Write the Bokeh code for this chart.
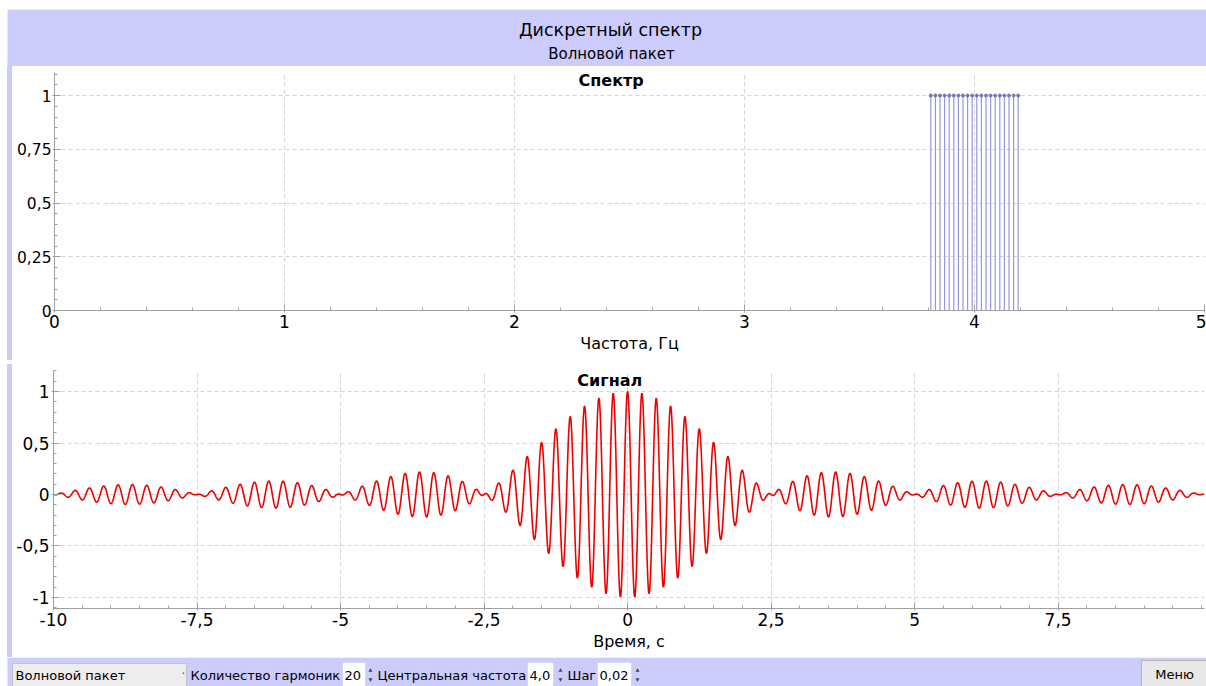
import numpy as np
from bokeh.plotting import figure
from bokeh.layouts import column, row
from bokeh.models import FixedTicker, Label, Range1d, CustomJSTickFormatter, Div
from bokeh.core.properties import value
from bokeh.embed import file_html
from bokeh.resources import INLINE

# ---------------- data ----------------
harmonic_freqs = [3.81, 3.83, 3.85, 3.87, 3.89, 3.91, 3.93, 3.95, 3.97, 3.99,
                  4.01, 4.03, 4.05, 4.07, 4.09, 4.11, 4.13, 4.15, 4.17, 4.19]
harmonic_amps = [1.0, 1.0, 1.0, 1.0, 1.0, 1.0, 1.0, 1.0, 1.0, 1.0,
                 1.0, 1.0, 1.0, 1.0, 1.0, 1.0, 1.0, 1.0, 1.0, 1.0]
spec_xticks = [0, 1, 2, 3, 4, 5]
spec_yticks = [0, 0.25, 0.5, 0.75, 1]
sig_xticks = [-10, -7.5, -5, -2.5, 0, 2.5, 5, 7.5]
sig_yticks = [-1, -0.5, 0, 0.5, 1]
time_start, time_stop, time_step = -10.0, 10.05, 0.005

window_title = "Дискретный спектр"
window_subtitle = "Волновой пакет"
spec_title = "Спектр"
sig_title = "Сигнал"
spec_xlabel = "Частота, Гц"
sig_xlabel = "Время, с"
toolbar_texts = ["Волновой пакет", "Количество гармоник", "20",
                 "Центральная частота", "4,0", "Шаг", "0,02"]
menu_text = "Меню"

# signal = sum of the harmonics of the discrete spectrum (normalised)
t = np.arange(time_start, time_stop, time_step)
signal = np.zeros_like(t)
for f, a in zip(harmonic_freqs, harmonic_amps):
    signal += a * np.cos(2 * np.pi * f * t)
signal /= sum(harmonic_amps)

FONT = "DejaVu Sans"
LAV = "#ccccfc"
W = 1206


def chrome(width, height):
    p = figure(width=width, height=height, x_range=Range1d(0, width),
               y_range=Range1d(height, 0), x_axis_type=None, y_axis_type=None,
               toolbar_location=None, output_backend="svg",
               min_border=0, min_border_left=0, min_border_right=0,
               min_border_top=0, min_border_bottom=0)
    p.outline_line_color = None
    p.background_fill_color = "white"
    p.border_fill_color = "white"
    p.grid.visible = False
    return p


def strip(height):
    return Div(text="", width=12, height=height, margin=0,
               styles={"background": f"linear-gradient(to right, white 0px, white 7px, {LAV} 7px, {LAV} 12px)",
                       "padding": "0px"})


def fmt():
    return CustomJSTickFormatter(code="return tick.toString().replace('.', ',');")


def style_plot(p):
    p.outline_line_color = None
    p.background_fill_color = "white"
    p.border_fill_color = "white"
    for ax in p.axis:
        ax.axis_line_color = "#a0a0a0"
        ax.major_tick_line_color = "#a0a0a0"
        ax.minor_tick_line_color = "#a0a0a0"
        ax.major_tick_in = 6
        ax.major_tick_out = 2
        ax.minor_tick_in = 3
        ax.minor_tick_out = 0
        ax.major_label_text_font = FONT
        ax.major_label_text_font_size = "17px"
        ax.major_label_text_color = "black"
        ax.major_label_standoff = 2
        ax.axis_label_text_font = FONT
        ax.axis_label_text_font_size = "16px"
        ax.axis_label_text_font_style = "normal"
        ax.axis_label_text_color = "black"
        ax.axis_label_standoff = 3
        ax.formatter = fmt()
    for g in p.grid:
        g.grid_line_color = "#d4d4d4"
        g.grid_line_dash = "4 3"
        g.grid_line_width = 1


# ---------------- header ----------------
hdr = chrome(W, 66)
hdr.quad(left=[7], right=[W], top=[9], bottom=[66], fill_color=LAV, line_color=None)
hdr.text(x=[610], y=[29], text=[window_title], text_font=value(FONT),
         text_font_size="17.5px", text_align="center", text_baseline="middle", text_color="black")
hdr.text(x=[611], y=[53], text=[window_subtitle], text_font=value(FONT),
         text_font_size="15px", text_align="center", text_baseline="middle", text_color="black")

# ---------------- spectrum ----------------
p1 = figure(width=1194, height=294, x_range=Range1d(0, 5), y_range=Range1d(0, 1.107),
            toolbar_location=None, output_backend="svg",
            min_border_left=42, min_border_right=2, min_border_top=6, min_border_bottom=50)
p1.xaxis.axis_label = spec_xlabel
xt1 = FixedTicker(ticks=spec_xticks,
                  minor_ticks=[round(v, 2) for v in np.arange(0, 5.001, 0.2)])
yt1 = FixedTicker(ticks=spec_yticks,
                  minor_ticks=[round(v, 2) for v in np.arange(0, 1.101, 0.05)])
p1.xaxis.ticker = xt1
p1.yaxis.ticker = yt1
p1.xgrid.ticker = xt1
p1.ygrid.ticker = yt1
style_plot(p1)
p1.yaxis.major_label_text_font_size = "15.5px"
p1.yaxis.major_label_standoff = 1
p1.segment(x0=harmonic_freqs, y0=[0] * len(harmonic_freqs), x1=harmonic_freqs,
           y1=harmonic_amps, line_color="#9898dc", line_width=1.2)
p1.scatter(x=harmonic_freqs, y=harmonic_amps, marker="circle", size=3,
           fill_color="#7474b8", line_color="#7474b8")
p1.add_layout(Label(x=2.42, y=1.07, text=spec_title, text_font=FONT,
                    text_font_size="16px", text_font_style="bold",
                    text_align="center", text_baseline="middle", text_color="black"))

# ---------------- separator ----------------
sep = chrome(W, 4)
sep.quad(left=[7], right=[W], top=[0], bottom=[4], fill_color=LAV, line_color=None)

# ---------------- signal ----------------
p2 = figure(width=1194, height=293, x_range=Range1d(-10, 10.05), y_range=Range1d(-1.107, 1.204),
            toolbar_location=None, output_backend="svg",
            min_border_left=41, min_border_right=2, min_border_top=6, min_border_bottom=49)
p2.xaxis.axis_label = sig_xlabel
xt2 = FixedTicker(ticks=sig_xticks,
                  minor_ticks=[round(v, 2) for v in np.arange(-10, 10.01, 0.5)])
yt2 = FixedTicker(ticks=sig_yticks,
                  minor_ticks=[round(v, 2) for v in np.arange(-1.1, 1.201, 0.1)])
p2.xaxis.ticker = xt2
p2.yaxis.ticker = yt2
p2.xgrid.ticker = xt2
p2.ygrid.ticker = yt2
style_plot(p2)
p2.line(t, signal, line_color="#ee0000", line_width=1.6)
p2.add_layout(Label(x=-0.31, y=1.107, text=sig_title, text_font=FONT,
                    text_font_size="16px", text_font_style="bold",
                    text_align="center", text_baseline="middle", text_color="black"))

# ---------------- bottom toolbar ----------------
tb = chrome(W, 29)
tb.quad(left=[7], right=[W], top=[0], bottom=[29], fill_color=LAV, line_color=None)
tb.quad(left=[12], right=[186], top=[6], bottom=[29], fill_color="#ededed", line_color="#c4c4c4")
tb.quad(left=[342, 527, 597], right=[365, 553, 631], top=[5, 5, 5], bottom=[29, 29, 29],
        fill_color="white", line_color="#d8d8f0")
tb.quad(left=[1141], right=[W], top=[3], bottom=[29], fill_color="#e8e8e8", line_color="#b4b4b4")
tb.text(x=[15, 190, 344, 377, 529, 567, 599],
        y=[18, 18, 18, 18, 18, 18, 18], text=toolbar_texts, text_font=value(FONT),
        text_font_size="13px", text_align="left", text_baseline="middle", text_color="black")
tb.text(x=[1174], y=[17], text=[menu_text], text_font=value(FONT),
        text_font_size="13px", text_align="center", text_baseline="middle", text_color="black")
tb.text(x=[183], y=[16], text=["·"], text_font=value(FONT), text_font_size="12px",
        text_align="center", text_baseline="middle", text_color="#555555")
tb.scatter(x=[370, 560, 637], y=[13, 13, 13], marker="triangle", size=4,
           fill_color="#444444", line_color=None)
tb.scatter(x=[370, 560, 637], y=[22, 22, 22], marker="inverted_triangle", size=4,
           fill_color="#444444", line_color=None)

layout = column(hdr, row(strip(294), p1, spacing=0), sep, row(strip(293), p2, spacing=0), tb,
                spacing=0)

with open("out.html", "w") as fh:
    fh.write(file_html(layout, INLINE))
